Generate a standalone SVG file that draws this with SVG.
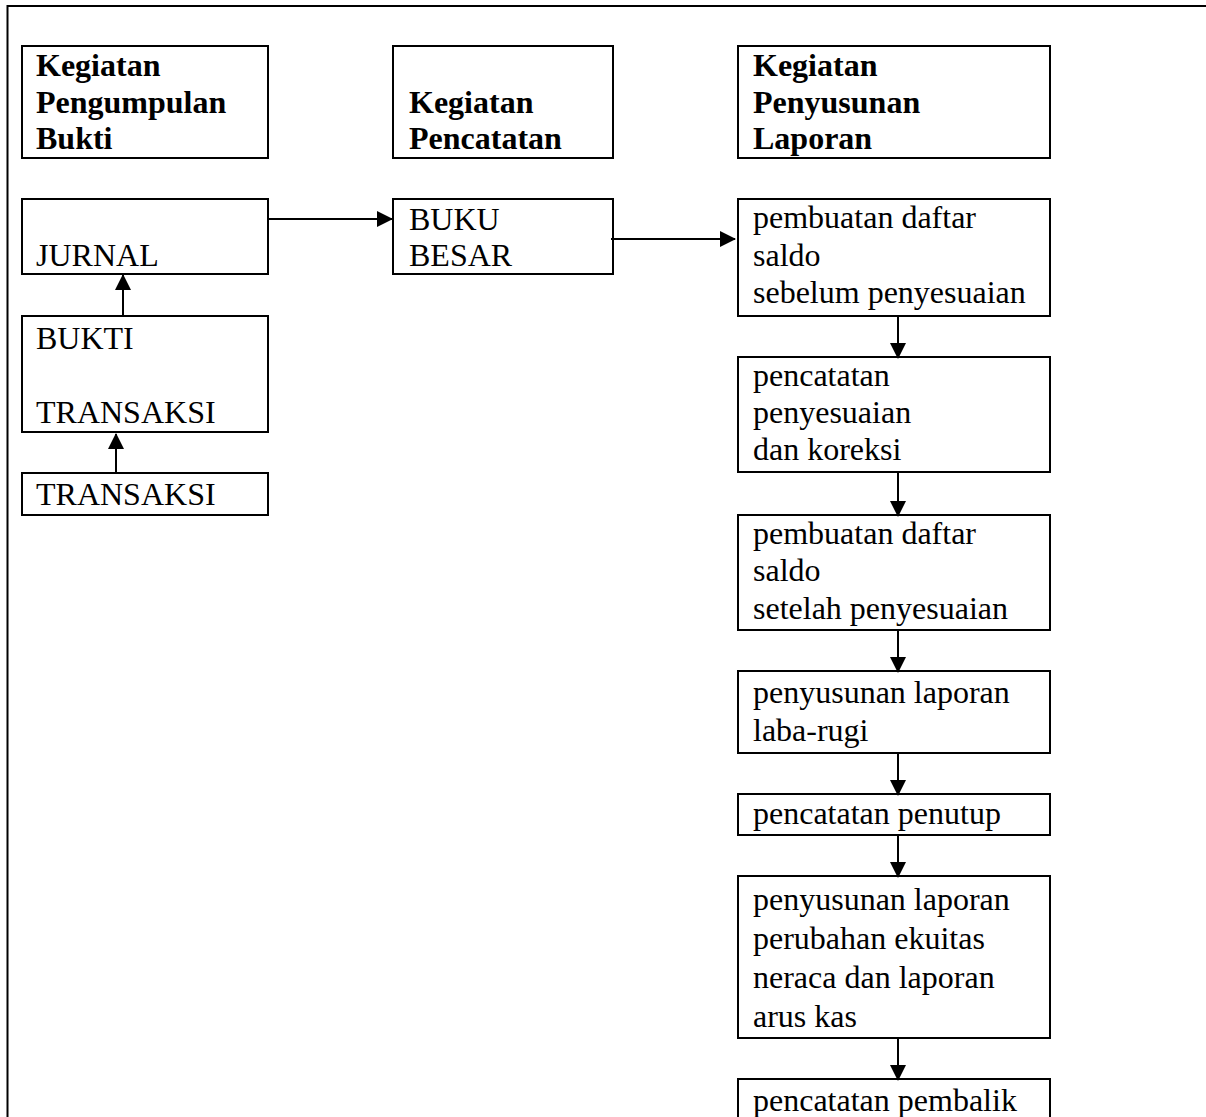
<svg xmlns="http://www.w3.org/2000/svg" width="1206" height="1117" viewBox="0 0 1206 1117">
<style>
.b{fill:#fff;stroke:#000;stroke-width:2}
.t{font-family:"Liberation Serif","Times New Roman",serif;font-size:32px;fill:#000}
.h{font-weight:bold}
.c{stroke:#000;stroke-width:2;fill:none}
</style>
<defs>
<marker id="ah" viewBox="0 0 16 16" refX="15" refY="8" markerWidth="16" markerHeight="16" markerUnits="userSpaceOnUse" orient="auto">
<path d="M0,0 L16,8 L0,16 z" fill="#000"/>
</marker>
</defs>
<rect width="1206" height="1117" fill="#fff"/>
<path d="M7.5,1117 V6 H1206" fill="none" stroke="#000" stroke-width="2"/>

<g id="h1"><rect class="b" x="22" y="46" width="246" height="112"/>
<text class="t h" x="36"><tspan x="36" y="76">Kegiatan</tspan><tspan x="36" y="113">Pengumpulan</tspan><tspan x="36" y="149">Bukti</tspan></text></g>
<g id="h2"><rect class="b" x="393" y="46" width="220" height="112"/>
<text class="t h" x="409"><tspan x="409" y="113">Kegiatan</tspan><tspan x="409" y="149">Pencatatan</tspan></text></g>
<g id="h3"><rect class="b" x="738" y="46" width="312" height="112"/>
<text class="t h" x="753"><tspan x="753" y="76">Kegiatan</tspan><tspan x="753" y="113">Penyusunan</tspan><tspan x="753" y="149">Laporan</tspan></text></g>

<g id="jurnal"><rect class="b" x="22" y="199" width="246" height="75"/>
<text class="t" x="36" y="266">JURNAL</text></g>
<g id="bukti"><rect class="b" x="22" y="316" width="246" height="116"/>
<text class="t"><tspan x="36" y="349">BUKTI</tspan><tspan x="36" y="423">TRANSAKSI</tspan></text></g>
<g id="transaksi"><rect class="b" x="22" y="473" width="246" height="42"/>
<text class="t" x="36" y="505">TRANSAKSI</text></g>

<g id="bukubesar"><rect class="b" x="393" y="199" width="220" height="75"/>
<text class="t"><tspan x="409" y="230">BUKU</tspan><tspan x="409" y="266">BESAR</tspan></text></g>

<g id="r1"><rect class="b" x="738" y="199" width="312" height="117"/>
<text class="t"><tspan x="753" y="228">pembuatan daftar</tspan><tspan x="753" y="266">saldo</tspan><tspan x="753" y="303">sebelum penyesuaian</tspan></text></g>
<g id="r2"><rect class="b" x="738" y="357" width="312" height="115"/>
<text class="t"><tspan x="753" y="386">pencatatan</tspan><tspan x="753" y="423">penyesuaian</tspan><tspan x="753" y="460">dan koreksi</tspan></text></g>
<g id="r3"><rect class="b" x="738" y="515" width="312" height="115"/>
<text class="t"><tspan x="753" y="544">pembuatan daftar</tspan><tspan x="753" y="581">saldo</tspan><tspan x="753" y="619">setelah penyesuaian</tspan></text></g>
<g id="r4"><rect class="b" x="738" y="671" width="312" height="82"/>
<text class="t"><tspan x="753" y="703">penyusunan laporan</tspan><tspan x="753" y="741">laba-rugi</tspan></text></g>
<g id="r5"><rect class="b" x="738" y="794" width="312" height="41"/>
<text class="t" x="753" y="824">pencatatan penutup</text></g>
<g id="r6"><rect class="b" x="738" y="876" width="312" height="162"/>
<text class="t"><tspan x="753" y="910">penyusunan laporan</tspan><tspan x="753" y="949">perubahan ekuitas</tspan><tspan x="753" y="988">neraca dan laporan</tspan><tspan x="753" y="1027">arus kas</tspan></text></g>
<g id="r7"><rect class="b" x="738" y="1079" width="312" height="60"/>
<text class="t" x="753" y="1111">pencatatan pembalik</text></g>

<g id="connectors">
<line class="c" x1="268" y1="219" x2="392" y2="219" marker-end="url(#ah)"/>
<line class="c" x1="611" y1="239" x2="735" y2="239" marker-end="url(#ah)"/>
<line class="c" x1="123" y1="316" x2="123" y2="275" marker-end="url(#ah)"/>
<line class="c" x1="116" y1="473" x2="116" y2="434" marker-end="url(#ah)"/>
<line class="c" x1="898" y1="316" x2="898" y2="358" marker-end="url(#ah)"/>
<line class="c" x1="898" y1="472" x2="898" y2="516" marker-end="url(#ah)"/>
<line class="c" x1="898" y1="630" x2="898" y2="672" marker-end="url(#ah)"/>
<line class="c" x1="898" y1="753" x2="898" y2="795" marker-end="url(#ah)"/>
<line class="c" x1="898" y1="835" x2="898" y2="877" marker-end="url(#ah)"/>
<line class="c" x1="898" y1="1038" x2="898" y2="1080" marker-end="url(#ah)"/>
</g>
</svg>
